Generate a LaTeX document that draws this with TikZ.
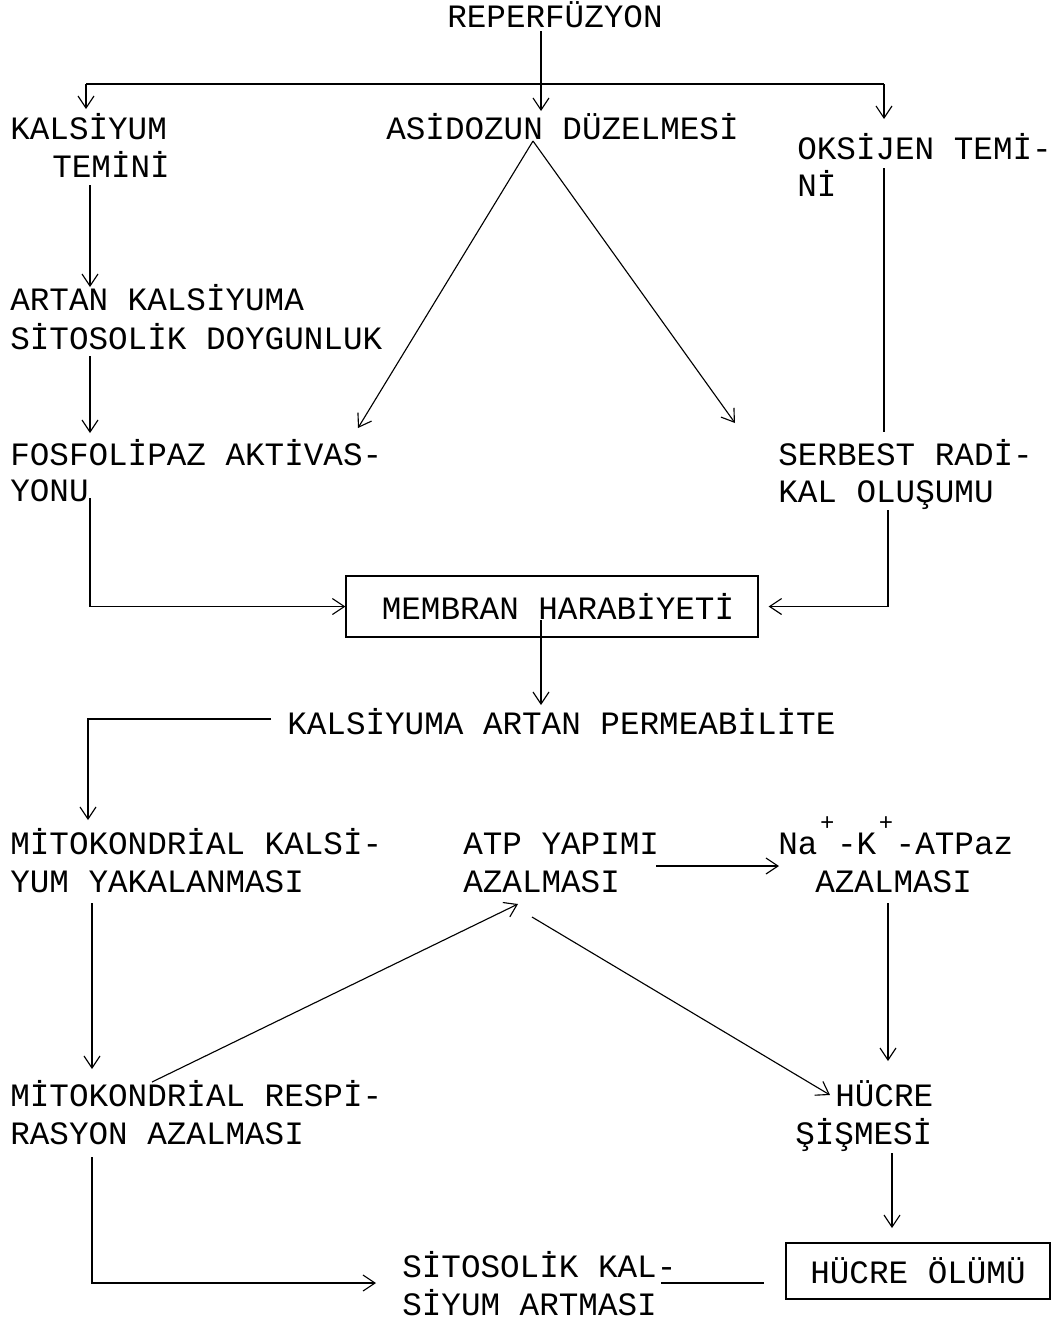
\documentclass[tikz,border=0pt]{standalone}
\usepackage{fontspec}
\newfontfamily\tw{Liberation Mono}
\usetikzlibrary{arrows.meta}
\newcommand{\supplus}{\makebox[0.6em]{\raisebox{0.72em}[0pt][0pt]{\fontsize{17}{17}\selectfont +}}}
\begin{document}
\begin{tikzpicture}[x=0.025cm,y=-0.025cm,
  lbl/.style={font=\tw\fontsize{23.2}{28}\selectfont, inner sep=0, anchor=base west, text height=0.5cm, text depth=0.1cm},
  ln/.style={line width=0.8pt},
  arr/.style={ln,-{Straight Barb[length=0.3cm,width=0.4cm,line width=0.8pt]}},
  boxn/.style={draw,line width=0.8pt,inner sep=0,font=\tw\fontsize{23.2}{28}\selectfont}]
\fill[white] (0,0) rectangle (1057,1324);
\useasboundingbox (0,0) rectangle (1057,1324);

% text nodes
\node[lbl] (rep) at (447,27) {REPERFÜZYON};
\node[lbl] (kal1) at (10,139) {KALSİYUM};
\node[lbl] (kal2) at (52,177) {TEMİNİ};
\node[lbl] (asid) at (386,139) {ASİDOZUN DÜZELMESİ};
\node[lbl] (oks1) at (797,159) {OKSİJEN TEMİ-};
\node[lbl] (oks2) at (797,196) {Nİ};
\node[lbl] (art1) at (10,310) {ARTAN KALSİYUMA};
\node[lbl] (art2) at (10,349) {SİTOSOLİK DOYGUNLUK};
\node[lbl] (fos1) at (10,465) {FOSFOLİPAZ AKTİVAS-};
\node[lbl] (fos2) at (10,501) {YONU};
\node[lbl] (ser1) at (778,465) {SERBEST RADİ-};
\node[lbl] (ser2) at (778,502) {KAL OLUŞUMU};
\node[boxn, minimum width=10.3cm, minimum height=1.525cm] (mem) at (552,606.5) {\hspace*{0.3cm}MEMBRAN HARABİYETİ};
\node[lbl] (perm) at (287,734) {KALSİYUMA ARTAN PERMEABİLİTE};
\node[lbl] (mit1) at (10,854) {MİTOKONDRİAL KALSİ-};
\node[lbl] (mit2) at (10,892) {YUM YAKALANMASI};
\node[lbl] (atp1) at (463,854) {ATP YAPIMI};
\node[lbl] (atp2) at (463,892) {AZALMASI};
\node[lbl] (na1) at (778,854) {Na\supplus-K\supplus-ATPaz};
\node[lbl] (na2) at (815,892) {AZALMASI};
\node[lbl] (res1) at (10,1106) {MİTOKONDRİAL RESPİ-};
\node[lbl] (res2) at (10,1144) {RASYON AZALMASI};
\node[lbl] (huc1) at (835,1106) {HÜCRE};
\node[lbl] (huc2) at (795,1144) {ŞİŞMESİ};
\node[boxn, minimum width=6.6cm, minimum height=1.4cm] (olum) at (918,1271) {HÜCRE ÖLÜMÜ};
\node[lbl] (sit1) at (402,1277) {SİTOSOLİK KAL-};
\node[lbl] (sit2) at (402,1315) {SİYUM ARTMASI};

% junction and end coordinates
\coordinate (hL) at (86,84);
\coordinate (hM) at (541,84);
\coordinate (hR) at (884,84);
\coordinate (tKal) at (86,109);
\coordinate (tAsid) at (541,111);
\coordinate (tOks) at (884,119);
\coordinate (k1) at (90,185);  \coordinate (k2) at (90,287);
\coordinate (a1) at (90,356);  \coordinate (a2) at (90,433);
\coordinate (ap) at (533,141); \coordinate (d1) at (358,428); \coordinate (d2) at (735,423);
\coordinate (o1) at (884,168); \coordinate (o2) at (884,432);
\coordinate (f1) at (90,498);
\coordinate (s1) at (888,510);
\coordinate (m1) at (541,620); \coordinate (m2) at (541,705);
\coordinate (pp1) at (271,719); \coordinate (pp2) at (88,820);
\coordinate (mi1) at (92,903); \coordinate (mi2) at (92,1069);
\coordinate (an1) at (656,866); \coordinate (an2) at (779,866);
\coordinate (r1) at (152,1082); \coordinate (r2) at (518,904);
\coordinate (h1) at (532,917); \coordinate (h2) at (830,1095);
\coordinate (n1) at (888,903); \coordinate (n2) at (888,1061);
\coordinate (u1) at (892,1153); \coordinate (u2) at (892,1228);
\coordinate (rs1) at (92,1157); \coordinate (rs2) at (376,1283);
\coordinate (sk1) at (661,1283); \coordinate (sk2) at (764,1283);

% connectors
\draw[ln] (hL) -- (hR);
\draw[arr] (rep.south -| hM) -- (tAsid);
\draw[arr] (hL) -- (tKal);
\draw[arr] (hR) -- (tOks);
\draw[arr] (k1) -- (k2);
\draw[arr] (a1) -- (a2);
\draw[arr] (ap) -- (d1);
\draw[arr] (ap) -- (d2);
\draw[ln] (o1) -- (o2);
\draw[arr] (f1) |- (mem.west);
\draw[arr,shorten >=0.25cm] (s1) |- (mem.east);
\draw[arr] (m1) -- (m2);
\draw[arr] (pp1) -| (pp2);
\draw[arr] (mi1) -- (mi2);
\draw[arr] (an1) -- (an2);
\draw[arr] (r1) -- (r2);
\draw[arr] (h1) -- (h2);
\draw[arr] (n1) -- (n2);
\draw[arr] (u1) -- (u2);
\draw[arr] (rs1) |- (rs2);
\draw[ln] (sk1) -- (sk2);
\end{tikzpicture}
\end{document}
